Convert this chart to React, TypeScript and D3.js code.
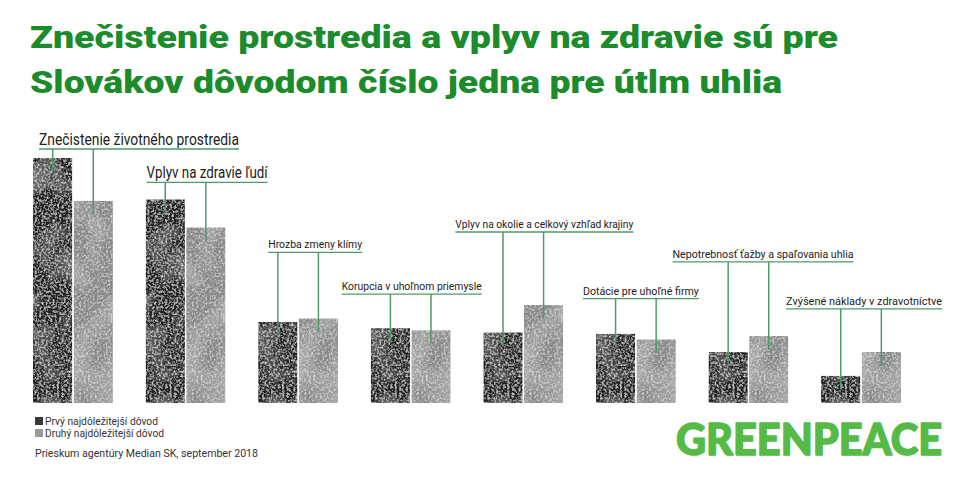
import * as React from 'react'
import * as d3 from 'd3'

// survey shares (% of respondents)
const reasons = [
	'Znečistenie životného prostredia',
	'Vplyv na zdravie ľudí',
	'Hrozba zmeny klímy',
	'Korupcia v uhoľnom priemysle',
	'Vplyv na okolie a celkový vzhľad krajiny',
	'Dotácie pre uhoľné firmy',
	'Nepotrebnosť ťažby a spaľovania uhlia',
	'Zvýšené náklady v zdravotníctve',
]
const firstReason = [35, 29.1, 11.6, 10.7, 10.1, 9.9, 7.3, 3.9]
const secondReason = [28.9, 25.1, 12.1, 10.4, 14, 9.1, 9.6, 7.3]
const seriesNames = ['Prvý najdôležitejší dôvod', 'Druhý najdôležitejší dôvod']

// callout layout: x shift from the group, rise above the taller bar, text width
const labelShift = [6, 1, 10, -29, -28, -13, -36, -35]
const labelRise = [9, 17, 66, 34, 73, 35, 74, 43]
const labelWidth = [200, 121, 94, 140, 178, 116, 181, 156]

const titleLines = [
	'Znečistenie prostredia a vplyv na zdravie sú pre',
	'Slovákov dôvodom číslo jedna pre útlm uhlia',
]
const source = 'Prieskum agentúry Median SK, september 2018'

const W = 970
const H = 485
const green = '#1b8b2b'
const calloutGreen = '#4f9a6b'
const barFill = ['#232323', '#878787']
const legendFill = ['#3a3a3a', '#9a9a9a']

function draw(svg: d3.Selection<SVGSVGElement, unknown, null, undefined>) {
	svg.selectAll('*').remove()

	// rock-like grain for the bars
	const defs = svg.append('defs')
	const grain = (id: string, fineA: string, coarseA: string, seed: number) => {
		const f = defs.append('filter').attr('id', id)
			.attr('x', 0).attr('y', 0).attr('width', 1).attr('height', 1)
		f.append('feTurbulence').attr('type', 'fractalNoise').attr('baseFrequency', '0.45')
			.attr('numOctaves', 2).attr('seed', seed).attr('result', 'fine')
		f.append('feTurbulence').attr('type', 'fractalNoise').attr('baseFrequency', '0.035 0.025')
			.attr('numOctaves', 3).attr('seed', seed + 5).attr('result', 'coarse')
		f.append('feColorMatrix').attr('in', 'fine').attr('type', 'matrix')
			.attr('values', `0 0 0 0 1  0 0 0 0 1  0 0 0 0 1  ${fineA}`).attr('result', 'fineA')
		f.append('feColorMatrix').attr('in', 'coarse').attr('type', 'matrix')
			.attr('values', `0 0 0 0 1  0 0 0 0 1  0 0 0 0 1  ${coarseA}`).attr('result', 'coarseA')
		const m = f.append('feMerge').attr('result', 'merged')
		m.append('feMergeNode').attr('in', 'SourceGraphic')
		m.append('feMergeNode').attr('in', 'coarseA')
		m.append('feMergeNode').attr('in', 'fineA')
		f.append('feComposite').attr('in', 'merged').attr('in2', 'SourceGraphic').attr('operator', 'in')
	}
	grain('grain0', '1.6 0 0 0 -0.72', '0.5 0 0 0 -0.24', 3)
	grain('grain1', '1.4 0 0 0 -0.62', '0.5 0 0 0 -0.2', 9)

	// title
	svg.append('g')
		.selectAll('text')
		.data(titleLines)
		.enter()
		.append('text')
		.attr('x', 30)
		.attr('y', (_, i) => 48 + i * 45)
		.attr('textLength', (_, i) => (i === 0 ? 808 : 752))
		.attr('lengthAdjust', 'spacingAndGlyphs')
		.style('font-family', 'Roboto, sans-serif')
		.style('font-weight', 900)
		.style('font-size', '31px')
		.attr('fill', green)
		.text(d => d)

	const x = d3.scaleBand<string>()
		.domain(reasons)
		.range([33, 901])
		.paddingInner(0.29)
		.paddingOuter(0)
	const xInner = d3.scaleBand<string>()
		.domain(seriesNames)
		.range([0, x.bandwidth()])
		.paddingInner(0.03)
	const y = d3.scaleLinear()
		.domain([0, 35])
		.range([403, 158])

	const rows = reasons.map((r, i) => ({ reason: r, vals: [firstReason[i], secondReason[i]], i }))

	const groups = svg.append('g')
		.selectAll('g')
		.data(rows)
		.enter()
		.append('g')
		.attr('transform', d => `translate(${x(d.reason)}, 0)`)

	groups.selectAll('rect')
		.data(d => d.vals.map((v, s) => ({ v, s })))
		.enter()
		.append('rect')
		.attr('x', d => xInner(seriesNames[d.s])!)
		.attr('y', d => y(d.v))
		.attr('width', xInner.bandwidth())
		.attr('height', d => y(0) - y(d.v))
		.attr('fill', d => barFill[d.s])
		.attr('filter', d => `url(#grain${d.s})`)

	// callouts
	groups.each(function (d) {
		const g = d3.select(this)
		const top = y(Math.max(d.vals[0], d.vals[1]))
		const uy = top - labelRise[d.i]
		const lx = labelShift[d.i]
		const big = d.i < 2
		g.append('text')
			.attr('x', lx)
			.attr('y', uy - 4)
			.attr('textLength', labelWidth[d.i])
			.attr('lengthAdjust', 'spacingAndGlyphs')
			.style('font-family', 'Roboto, sans-serif')
			.style('font-size', big ? '16px' : '11.5px')
			.attr('fill', '#222')
			.text(d.reason)
		g.append('line')
			.attr('x1', lx).attr('x2', lx + labelWidth[d.i])
			.attr('y1', uy).attr('y2', uy)
			.attr('stroke', calloutGreen).attr('stroke-width', 1.3)
		g.selectAll('line.drop')
			.data(d.vals)
			.enter()
			.append('line')
			.attr('class', 'drop')
			.attr('x1', (_, s) => xInner(seriesNames[s])! + xInner.bandwidth() / 2)
			.attr('x2', (_, s) => xInner(seriesNames[s])! + xInner.bandwidth() / 2)
			.attr('y1', uy)
			.attr('y2', v => y(v) + 14)
			.attr('stroke', calloutGreen).attr('stroke-width', 1.5)
	})

	// legend
	const legend = svg.append('g')
		.selectAll('g')
		.data(seriesNames)
		.enter()
		.append('g')
		.attr('transform', (_, i) => `translate(35, ${417 + i * 12})`)
	legend.append('rect')
		.attr('width', 8).attr('height', 8)
		.attr('fill', (_, i) => legendFill[i])
	legend.append('text')
		.attr('x', 10).attr('y', 8)
		.style('font-family', 'Roboto, sans-serif')
		.style('font-size', '11px')
		.attr('textLength', (_, i) => (i === 0 ? 113 : 119))
		.attr('lengthAdjust', 'spacingAndGlyphs')
		.attr('fill', '#333')
		.text(d => d)

	svg.append('text')
		.attr('x', 35).attr('y', 457)
		.attr('textLength', 223)
		.attr('lengthAdjust', 'spacingAndGlyphs')
		.style('font-family', 'Roboto, sans-serif')
		.style('font-size', '11px')
		.attr('fill', '#333')
		.text(source)

	// logo
	svg.append('text')
		.attr('x', 676).attr('y', 455)
		.attr('textLength', 266)
		.attr('lengthAdjust', 'spacingAndGlyphs')
		.style('font-family', 'Lato, Roboto, sans-serif')
		.style('font-weight', 900)
		.style('font-size', '44px')
		.attr('fill', '#55bb46')
		.attr('stroke', '#55bb46')
		.attr('stroke-width', 1.5)
		.attr('stroke-linejoin', 'round')
		.text('GREENPEACE')
}

const App: React.FC = () => {
	const svgRef = React.useRef<SVGSVGElement>(null)

	React.useEffect(() => {
		if (svgRef.current) draw(d3.select(svgRef.current))
	}, [])

	return (
		<svg ref={svgRef} width={W} height={H}
			style={{ position: 'absolute', left: 0, top: 0, background: '#fff' }} />
	)
}

export default App
